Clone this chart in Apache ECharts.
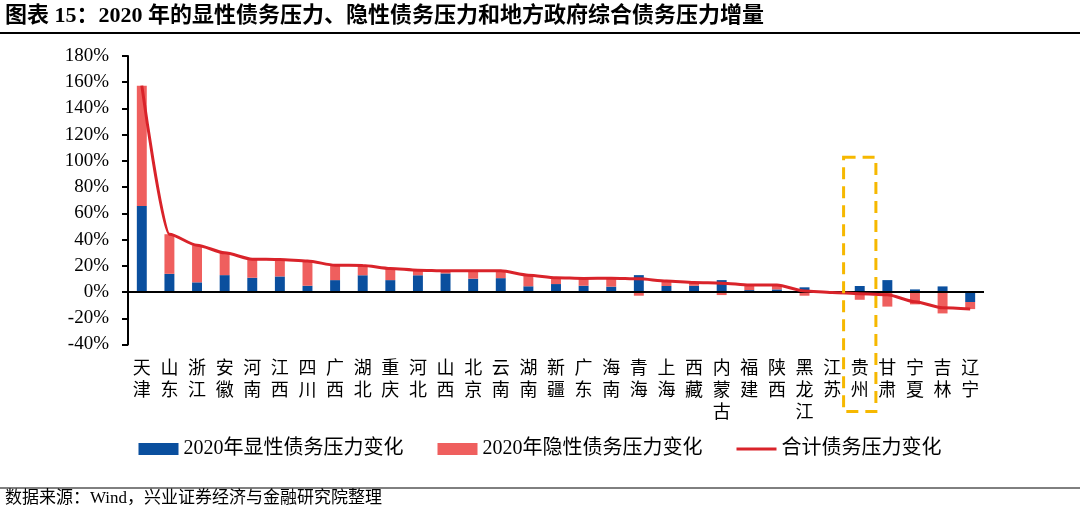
<!DOCTYPE html>
<html><head><meta charset="utf-8">
<script src="https://cdn.jsdelivr.net/npm/echarts@6/dist/echarts.min.js"></script>
<style>html,body{margin:0;padding:0;background:#fff}#c{width:1080px;height:518px}</style>
</head><body><div id="c"></div>
<script>
const categories = ['天津','山东','浙江','安徽','河南','江西','四川','广西','湖北','重庆','河北','山西','北京','云南','湖南','新疆','广东','海南','青海','上海','西藏','内蒙古','福建','陕西','黑龙江','江苏','贵州','甘肃','宁夏','吉林','辽宁'];
const explicitDebt = [65.6,13.9,7.4,12.9,10.9,11.9,4.8,9.1,12.8,9.1,12.8,14.2,10.2,10.6,4.4,6.1,4.8,4.1,12.9,4.6,4.8,9.1,1.5,2.0,3.6,0.3,4.6,9.1,2.0,4.3,-7.6];
const implicitDebt = [91.8,30.2,28.3,17.0,14.2,12.9,18.8,11.4,7.5,8.9,3.9,2.0,6.0,5.6,8.5,4.8,5.6,6.5,-2.8,3.8,2.4,-2.3,3.8,3.3,-2.8,-0.6,-5.9,-11.1,-9.4,-16.3,-5.4];
const totalDebt = explicitDebt.map((v,i)=>+(v+implicitDebt[i]).toFixed(1));
const yTicks = {min:-40, max:180, interval:20};
const highlightCat = '贵州';
const highlightTop = 102.7;

const serif = '"Liberation Serif","Noto Sans CJK SC",serif';
const chart = echarts.init(document.getElementById('c'));
chart.setOption({
  animation:false,
  grid:{left:128,right:96,top:56,bottom:173.5},
  legend:{
    top:434,left:'center',itemGap:34,itemWidth:40,itemHeight:12,
    textStyle:{fontFamily:serif,fontSize:20,color:'#000'},
    data:[{name:'2020年显性债务压力变化',icon:'rect'},{name:'2020年隐性债务压力变化',icon:'rect'},
      {name:'合计债务压力变化',icon:'path://M0,0L40,0L40,3L0,3Z',itemStyle:{color:'#d9232a'}}]
  },
  xAxis:{
    type:'category',data:categories,
    axisLine:{show:false,onZero:false},axisTick:{show:false},
    axisLabel:{interval:0,margin:14,fontFamily:serif,fontSize:18,lineHeight:22,color:'#000',
      formatter:v=>v.split('').join('\n'),verticalAlign:'top'}
  },
  yAxis:{
    type:'value',min:yTicks.min,max:yTicks.max,interval:yTicks.interval,
    splitLine:{show:false},
    axisLine:{show:true,lineStyle:{color:'#000',width:2}},
    axisTick:{show:true,length:6,lineStyle:{color:'#000',width:2}},
    axisLabel:{formatter:'{value}%',fontFamily:serif,fontSize:19,color:'#000',margin:19}
  },
  series:[
    {name:'2020年显性债务压力变化',type:'bar',stack:'d',data:explicitDebt,barWidth:'36%',
      itemStyle:{color:'#0a4f9e'},
      markLine:{silent:true,symbol:'none',label:{show:false},lineStyle:{color:'#000',width:2,type:'solid'},data:[{yAxis:0}]}},
    {name:'2020年隐性债务压力变化',type:'bar',stack:'d',data:implicitDebt,barWidth:'36%',
      itemStyle:{color:'#ef5f5e'}},
    {name:'合计债务压力变化',type:'line',data:totalDebt,smooth:0.25,smoothMonotone:'x',symbol:'none',showSymbol:false,
      lineStyle:{color:'#d9232a',width:3},itemStyle:{color:'#d9232a'},z:5}
  ]
});
const xC = chart.convertToPixel({xAxisIndex:0}, highlightCat);
const yTop = chart.convertToPixel({yAxisIndex:0}, highlightTop);
const yBot = chart.convertToPixel({yAxisIndex:0}, yTicks.min) + 67;
const bw = (1080-128-96)/categories.length*1.17;
chart.setOption({graphic:[
  {type:'text',left:5,top:5,style:{text:'图表 15：2020 年的显性债务压力、隐性债务压力和地方政府综合债务压力增量',font:'bold 22px "Liberation Serif","Noto Sans CJK SC",serif',fill:'#000'}},
  {type:'line',shape:{x1:0,y1:33,x2:1080,y2:33},style:{stroke:'#000',lineWidth:2}},
  {type:'line',shape:{x1:0,y1:488,x2:1080,y2:488},style:{stroke:'#000',lineWidth:1}},
  {type:'text',left:5,top:490,style:{text:'数据来源：Wind，兴业证券经济与金融研究院整理',font:'17px "Liberation Serif","Noto Sans CJK SC",serif',fill:'#000'}},
  {type:'rect',shape:{x:xC-bw/2,y:yTop,width:bw,height:yBot-yTop},z:10,
    style:{fill:'none',stroke:'#f6b800',lineWidth:3,lineDash:[12,7]}}
]});
</script></body></html>
